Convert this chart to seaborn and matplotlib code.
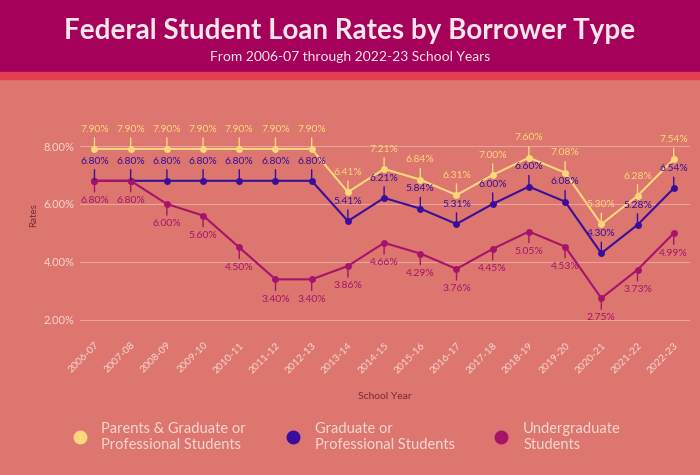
import matplotlib
matplotlib.use("Agg")
import matplotlib.pyplot as plt
import seaborn as sns
import pandas as pd
from matplotlib.lines import Line2D

years = ["2006-07","2007-08","2008-09","2009-10","2010-11","2011-12","2012-13","2013-14",
         "2014-15","2015-16","2016-17","2017-18","2018-19","2019-20","2020-21","2021-22","2022-23"]
parents = [7.90,7.90,7.90,7.90,7.90,7.90,7.90,6.41,7.21,6.84,6.31,7.00,7.60,7.08,5.30,6.28,7.54]
graduate = [6.80,6.80,6.80,6.80,6.80,6.80,6.80,5.41,6.21,5.84,5.31,6.00,6.60,6.08,4.30,5.28,6.54]
undergrad = [6.80,6.80,6.00,5.60,4.50,3.40,3.40,3.86,4.66,4.29,3.76,4.45,5.05,4.53,2.75,3.73,4.99]
series_names = ["Parents & Graduate or\nProfessional Students", "Graduate or\nProfessional Students", "Undergraduate\nStudents"]
yticks = [2, 4, 6, 8]

BG = "#dc766e"; YEL = "#fcd77c"; PUR = "#3a0d9c"; MAG = "#a8136a"
HEAD = "#a5005a"; STRIPE = "#e2404f"; TXT = "#f6d6d2"

rows = []
for name, vals in zip(series_names, [parents, graduate, undergrad]):
    for i, (y, v) in enumerate(zip(years, vals)):
        rows.append({"idx": i, "year": y, "rate": v, "series": name})
df = pd.DataFrame(rows)
colors = dict(zip(series_names, [YEL, PUR, MAG]))

fig = plt.figure(figsize=(7, 4.75), dpi=100)
fig.patch.set_facecolor(BG)
fig.add_artist(plt.Rectangle((0, 1-72/475), 1, 72/475, transform=fig.transFigure, color=HEAD, zorder=0))
fig.add_artist(plt.Rectangle((0, 1-79/475), 1, 7/475, transform=fig.transFigure, color=STRIPE, zorder=0))
fig.text(0.5, 1-31/475, "Federal Student Loan Rates by Borrower Type", ha="center", va="center",
         color="#f8e6ea", fontsize=20, fontweight="bold", family="Lato")
fig.text(0.5, 1-57/475, "From 2006-07 through 2022-23 School Years", ha="center", va="center",
         color="#f8e6ea", fontsize=10, family="Lato")

ax = fig.add_axes([80/700, 1-335/475, 610/700, 240/475])
ax.set_facecolor(BG)
sns.lineplot(data=df, x="idx", y="rate", hue="series", palette=colors, marker="o",
             markersize=5, markeredgewidth=0, linewidth=1.5, ax=ax, legend=False, sort=False)
ax.set_xlim(-0.4, 16.45)
ax.set_ylim(1.48, 9.76)
ax.set_yticks(yticks)
ax.set_yticklabels([f"{t:.2f}%" for t in yticks], color=TXT, fontsize=8, family="Lato")
ax.set_xticks(range(len(years)))
ax.set_xticklabels(years, rotation=45, ha="right", rotation_mode="anchor", color=TXT, fontsize=7.5, family="Lato")
ax.tick_params(length=0, pad=4)
ax.grid(axis="y", color="#e9a49c", linewidth=0.8)
ax.set_axisbelow(True)
for s in ax.spines.values():
    s.set_visible(False)
ax.set_xlabel("School Year", color="#7a2a3a", fontsize=7.5, family="Lato", labelpad=12)
ax.set_ylabel("Rates", color="#7a2a3a", fontsize=7, family="Lato")

def label(vals, color, dy):
    for i, v in enumerate(vals):
        ax.annotate(f"{v:.2f}%", (i, v), xytext=(0, dy), textcoords="offset points",
                    ha="center", va="bottom" if dy > 0 else "top", color=color, fontsize=7.5,
                    family="Lato",
                    arrowprops=dict(arrowstyle="-", color=color, lw=1, shrinkA=1, shrinkB=0))
label(parents, YEL, 11)
label(graduate, PUR, 11)
label(undergrad, MAG, -11)

handles = [Line2D([], [], marker="o", color=c, linestyle="", markersize=9) for c in [YEL, PUR, MAG]]
leg = fig.legend(handles, series_names, loc="center", bbox_to_anchor=(0.49, 1-437/475), ncol=3,
                 frameon=False, labelcolor=TXT, handletextpad=0.5, columnspacing=2.2,
                 prop={"family": "Lato", "size": 10.5})
fig.savefig("out.png", dpi=100, facecolor=BG)
